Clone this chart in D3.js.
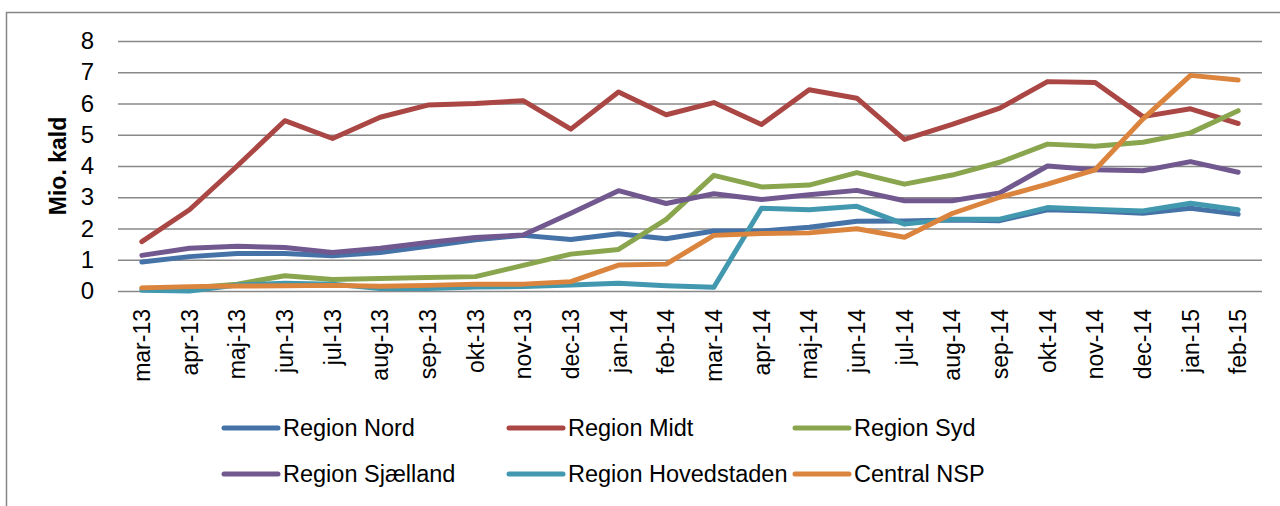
<!DOCTYPE html>
<html>
<head>
<meta charset="utf-8">
<script src="https://cdn.jsdelivr.net/npm/d3@7"></script>
<style>
  html, body { margin: 0; padding: 0; background: #fff; }
  svg { display: block; }
  text { font-family: "Liberation Sans", Arial, sans-serif; fill: #000; }
</style>
</head>
<body>
<svg id="chart" width="1280" height="506"></svg>
<script>
const months = ["mar-13","apr-13","maj-13","jun-13","jul-13","aug-13","sep-13","okt-13","nov-13","dec-13","jan-14","feb-14","mar-14","apr-14","maj-14","jun-14","jul-14","aug-14","sep-14","okt-14","nov-14","dec-14","jan-15","feb-15"];

const regionNord = [0.93,1.10,1.20,1.20,1.13,1.23,1.43,1.64,1.78,1.65,1.83,1.67,1.92,1.92,2.04,2.23,2.24,2.27,2.25,2.60,2.56,2.49,2.65,2.46];
const regionMidt = [1.58,2.60,4.00,5.45,4.88,5.56,5.95,6.00,6.09,5.18,6.37,5.64,6.03,5.33,6.44,6.17,4.85,5.33,5.85,6.70,6.67,5.58,5.83,5.36];
const regionSyd = [0.09,0.10,0.22,0.49,0.37,0.40,0.43,0.46,0.82,1.18,1.33,2.29,3.70,3.33,3.39,3.79,3.42,3.71,4.12,4.70,4.63,4.76,5.06,5.77];
const regionSjaelland = [1.14,1.37,1.43,1.39,1.23,1.37,1.55,1.71,1.79,2.49,3.21,2.80,3.11,2.93,3.08,3.22,2.89,2.89,3.14,4.00,3.88,3.85,4.14,3.80];
const regionHovedstaden = [0.02,0.00,0.19,0.25,0.22,0.08,0.08,0.13,0.14,0.19,0.25,0.17,0.12,2.65,2.60,2.71,2.14,2.30,2.30,2.67,2.61,2.56,2.81,2.60];
const centralNSP = [0.10,0.14,0.16,0.17,0.18,0.15,0.18,0.22,0.22,0.30,0.83,0.86,1.78,1.84,1.86,1.99,1.72,2.48,3.00,3.42,3.88,5.50,6.90,6.75];

const seriesNames = ["Region Nord","Region Midt","Region Syd","Region Sjælland","Region Hovedstaden","Central NSP"];
const seriesValues = [regionNord, regionMidt, regionSyd, regionSjaelland, regionHovedstaden, centralNSP];
const seriesColors = ["#4572A7","#AA4643","#89A54E","#71588F","#4198AF","#DB843D"];
const yTicks = [0,1,2,3,4,5,6,7,8];
const yTitle = "Mio. kald";

const svg = d3.select("#chart");

// outer chart border (only top and left visible in the crop)
svg.append("path")
  .attr("d", "M6.5,506 V12.5 H1280")
  .attr("fill", "none")
  .attr("stroke", "#868686")
  .attr("stroke-width", 1.5);

const plot = { left: 118, right: 1262, top: 41, bottom: 291 };

const x = d3.scaleBand().domain(months).range([plot.left, plot.right]).padding(0);
const y = d3.scaleLinear().domain([0, 8]).range([plot.bottom, plot.top]);
const cx = d => x(d) + x.bandwidth() / 2;

// y axis with gridlines
const yAxis = svg.append("g")
  .attr("transform", `translate(${plot.left},0)`)
  .call(d3.axisLeft(y).tickValues(yTicks).tickFormat(d3.format("d"))
    .tickSizeInner(-(plot.right - plot.left)).tickSizeOuter(0).tickPadding(24));
yAxis.select(".domain").remove();
yAxis.selectAll(".tick line").attr("stroke", "#888").attr("stroke-width", 1.6);
yAxis.selectAll(".tick text")
  .attr("font-size", 24)
  .attr("font-family", "Liberation Sans, Arial, sans-serif")
  .attr("fill", "#000");

// x axis labels
const xAxis = svg.append("g")
  .attr("transform", `translate(0,${plot.bottom})`)
  .call(d3.axisBottom(x).tickSize(0).tickPadding(0));
xAxis.select(".domain").remove();
xAxis.selectAll(".tick text")
  .attr("font-size", 23)
  .attr("font-family", "Liberation Sans, Arial, sans-serif")
  .attr("fill", "#000")
  .attr("text-anchor", "end")
  .attr("transform", "translate(0,18) rotate(-90)")
  .attr("x", 0)
  .attr("y", 0)
  .attr("dy", "0.35em");

// y title
svg.append("text")
  .attr("transform", "translate(66,166) rotate(-90)")
  .attr("text-anchor", "middle")
  .attr("font-size", 23)
  .attr("font-weight", "bold")
  .text(yTitle);

// lines
const line = d3.line()
  .x((d, i) => cx(months[i]))
  .y(d => y(d));

svg.append("g").selectAll("path")
  .data(seriesValues)
  .join("path")
  .attr("d", d => line(d))
  .attr("fill", "none")
  .attr("stroke", (d, i) => seriesColors[i])
  .attr("stroke-width", 5)
  .attr("stroke-linejoin", "round")
  .attr("stroke-linecap", "round");

// legend
const legendCols = [222, 507, 793];
const legendRows = [428, 474];
const legend = svg.append("g").selectAll("g")
  .data(seriesNames)
  .join("g")
  .attr("transform", (d, i) => `translate(${legendCols[i % 3]},${legendRows[Math.floor(i / 3)]})`);
legend.append("line")
  .attr("x1", 2).attr("x2", 56).attr("y1", 0).attr("y2", 0)
  .attr("stroke", (d, i) => seriesColors[i])
  .attr("stroke-width", 5)
  .attr("stroke-linecap", "round");
legend.append("text")
  .attr("x", 61)
  .attr("y", 0)
  .attr("dy", "0.36em")
  .attr("font-size", 23.5)
  .text(d => d);
</script>
</body>
</html>
